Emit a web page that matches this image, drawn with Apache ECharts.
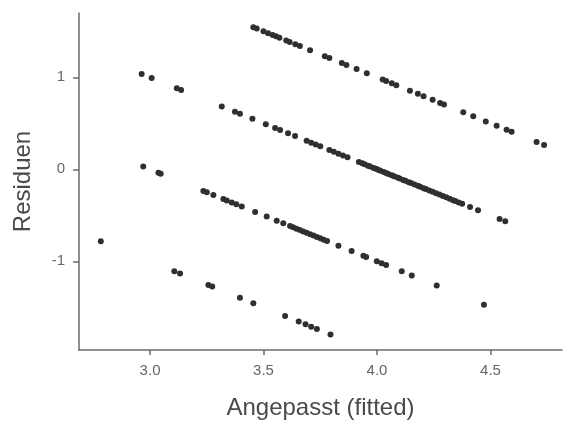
<!DOCTYPE html>
<html>
<head>
<meta charset="utf-8">
<script src="https://cdn.jsdelivr.net/npm/echarts@6/dist/echarts.min.js"></script>
<style>html,body{margin:0;padding:0;background:#fff;}#c{width:564px;height:427px;}</style>
</head>
<body>
<div id="c"></div>
<script>
// Fitted values per observed response level (residual = observed - fitted)
const fittedY5 = [3.455, 3.47, 3.50, 3.52, 3.54, 3.555, 3.57, 3.60, 3.615, 3.64, 3.66, 3.705, 3.77, 3.79, 3.845, 3.865, 3.91, 3.955, 4.025, 4.04, 4.065, 4.085, 4.145, 4.18, 4.205, 4.245, 4.278, 4.295, 4.38, 4.424, 4.479, 4.527, 4.571, 4.593, 4.703, 4.736];
const fittedY4 = [2.963, 3.007, 3.118, 3.137, 3.316, 3.374, 3.396, 3.451, 3.510, 3.551, 3.573, 3.608, 3.639, 3.69, 3.71, 3.73, 3.75, 3.79, 3.81, 3.83, 3.85, 3.87, 3.92, 3.935, 3.945, 3.96, 3.97, 3.985, 3.995, 4.005, 4.015, 4.03, 4.04, 4.05, 4.065, 4.075, 4.09, 4.10, 4.115, 4.125, 4.14, 4.15, 4.165, 4.18, 4.19, 4.205, 4.215, 4.23, 4.245, 4.26, 4.275, 4.29, 4.305, 4.32, 4.335, 4.345, 4.36, 4.375, 4.41, 4.445, 4.54, 4.565];
const fittedY3 = [2.97, 3.037, 3.047, 3.235, 3.25, 3.279, 3.323, 3.338, 3.36, 3.38, 3.404, 3.463, 3.514, 3.558, 3.587, 3.617, 3.63, 3.645, 3.66, 3.675, 3.69, 3.705, 3.72, 3.735, 3.75, 3.765, 3.78, 3.83, 3.888, 3.94, 3.952, 3.999, 4.02, 4.04, 4.109, 4.153, 4.263, 4.471];
const fittedY2 = [2.783, 3.107, 3.132, 3.257, 3.274, 3.396, 3.455, 3.595, 3.655, 3.685, 3.71, 3.735, 3.795];
const observedLevels = [5, 4, 3, 2];
const xTicks = [3.0, 3.5, 4.0, 4.5];
const yTicks = [-1, 0, 1];

const groups = [fittedY5, fittedY4, fittedY3, fittedY2];
const points = [];
groups.forEach((g, i) => g.forEach(f => points.push([f, +(observedLevels[i] - f).toFixed(4)])));

const axisCol = '#6b6b6b';
const chart = echarts.init(document.getElementById('c'));
chart.setOption({
  animation: false,
  backgroundColor: '#ffffff',
  grid: { left: 79, right: 2, top: 13, bottom: 77 },
  xAxis: {
    type: 'value', min: 2.687, max: 4.815,
    name: 'Angepasst (fitted)', nameLocation: 'middle', nameGap: 46,
    nameTextStyle: { fontFamily: 'Liberation Sans', fontSize: 24, color: '#4a4a4a' },
    axisLine: { show: true, onZero: false, lineStyle: { color: axisCol, width: 1.5 } },
    axisTick: { show: true, length: 5, customValues: xTicks, lineStyle: { color: axisCol, width: 1.5 } },
    axisLabel: { customValues: xTicks, margin: 13, fontFamily: 'Liberation Sans', fontSize: 15, color: '#666666', formatter: v => v.toFixed(1) },
    splitLine: { show: false }
  },
  yAxis: {
    type: 'value', min: -1.964, max: 1.699,
    name: 'Residuen', nameLocation: 'middle', nameGap: 44, nameRotate: 90,
    nameTextStyle: { fontFamily: 'Liberation Sans', fontSize: 24, color: '#4a4a4a' },
    axisLine: { show: true, onZero: false, lineStyle: { color: axisCol, width: 1.5 } },
    axisTick: { show: true, length: 6, customValues: yTicks, lineStyle: { color: axisCol, width: 1.5 } },
    axisLabel: { customValues: yTicks, margin: 14, fontFamily: 'Liberation Sans', fontSize: 15, color: '#666666', formatter: v => String(v) },
    splitLine: { show: false }
  },
  series: [{
    type: 'scatter', data: points, symbol: 'circle', symbolSize: 6,
    itemStyle: { color: '#2f2f2f', opacity: 1 }
  }]
});
</script>
</body>
</html>
